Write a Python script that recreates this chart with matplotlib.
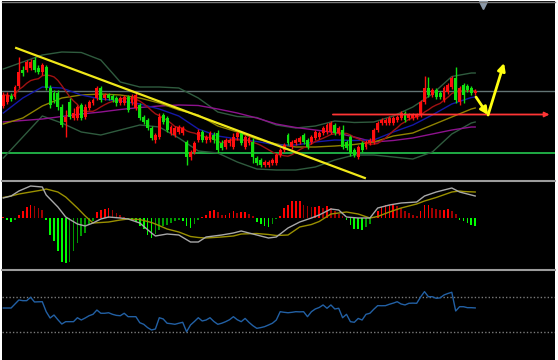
"""
Trading chart: candles + MAs/Bollinger, MACD-style histogram, RSI
Output: out.png (558x360)
"""

import numpy as np
import pandas as pd
import matplotlib
matplotlib.use('Agg')
import matplotlib.pyplot as plt
from matplotlib.lines import Line2D
from matplotlib.patches import Rectangle

W, H = 558, 360

# ── candles (price in chart units) ───────────────────────────────────────────
opens = [94, 98, 104, 103, 114, 130, 130, 132, 140, 132, 128, 133, 112, 107, 107, 93,
         78, 98, 82, 82, 95, 83, 92, 97, 102, 112, 102, 105, 104, 102, 97, 97,
         103, 97, 92, 95, 83, 80, 72, 60, 63, 85, 82, 67, 65, 68, 67, 58,
         43, 48, 60, 68, 60, 60, 65, 67, 57, 53, 57, 53, 63, 67, 53, 57,
         58, 42, 40, 35, 35, 37, 37, 45, 50, 65, 53, 57, 58, 65, 60, 58,
         62, 63, 67, 68, 68, 75, 67, 70, 58, 63, 50, 43, 57, 53, 57, 58,
         70, 77, 77, 77, 77, 80, 82, 87, 82, 82, 83, 85, 98, 112, 105, 110,
         107, 100, 108, 113, 122, 98, 115, 114, 112, 107]
closes = [105, 105, 101, 113, 128, 127, 138, 138, 130, 128, 135, 112, 95, 100, 93, 75,
          83, 83, 87, 93, 82, 93, 98, 100, 112, 100, 105, 102, 100, 97, 102, 103,
          90, 103, 105, 82, 78, 72, 62, 65, 83, 78, 70, 73, 72, 73, 72, 43,
          48, 57, 68, 60, 63, 67, 60, 50, 52, 60, 60, 63, 67, 57, 63, 62,
          43, 37, 35, 38, 38, 40, 45, 50, 55, 57, 58, 60, 62, 58, 53, 63,
          68, 67, 72, 75, 77, 67, 72, 53, 52, 47, 45, 53, 50, 58, 60, 70,
          77, 80, 80, 82, 82, 83, 87, 80, 85, 85, 85, 98, 112, 105, 110, 103,
          103, 112, 115, 122, 100, 112, 105, 110, 107, 109]
highs = [108, 108, 107, 115, 143, 134, 140, 141, 143, 135, 137, 135, 115, 110, 110, 96,
         90, 102, 92, 95, 97, 96, 100, 102, 114, 114, 107, 107, 106, 104, 104, 105,
         105, 106, 107, 97, 85, 82, 74, 67, 87, 87, 84, 75, 74, 75, 74, 60,
         50, 59, 71, 70, 65, 69, 68, 70, 60, 62, 62, 67, 69, 69, 65, 65,
         62, 44, 42, 40, 40, 42, 47, 52, 57, 67, 60, 62, 64, 67, 62, 65,
         70, 69, 74, 77, 79, 77, 74, 75, 60, 65, 52, 55, 59, 60, 62, 72,
         79, 82, 82, 84, 84, 85, 89, 89, 87, 87, 87, 100, 124, 123, 112, 112,
         109, 114, 117, 124, 133, 114, 117, 116, 114, 111]
lows = [92, 96, 99, 101, 112, 124, 128, 130, 128, 126, 125, 110, 92, 97, 90, 73,
        63, 81, 80, 80, 80, 81, 90, 95, 100, 98, 100, 100, 98, 94, 95, 95,
        88, 95, 90, 80, 76, 70, 60, 57, 61, 76, 68, 65, 63, 66, 65, 35,
        40, 46, 58, 58, 57, 58, 57, 47, 50, 51, 54, 51, 60, 55, 51, 55,
        37, 35, 33, 33, 33, 35, 35, 43, 48, 55, 51, 55, 56, 56, 51, 56,
        60, 61, 65, 66, 66, 65, 65, 51, 50, 44, 43, 41, 48, 51, 55, 56,
        68, 75, 75, 75, 75, 78, 80, 78, 80, 80, 81, 83, 96, 103, 103, 101,
        101, 98, 106, 111, 97, 95, 97, 108, 105, 105]

# ── overlay lines, read at every 5th bar ─────────────────────────────────────
ma_idx = [0, 5, 10, 15, 20, 25, 30, 35, 40, 45, 50, 55, 60, 65, 70, 75, 80, 85,
          90, 95, 100, 105, 110, 115, 120, 121]
ma_blue = [87, 102, 113, 112, 105, 101, 99, 96, 91, 84, 71, 64, 61, 58.5, 55, 55, 58, 60,
           59.5, 60, 68, 75, 85, 96, 102.5, 103]
ma_olive = [76, 82, 94, 102, 105, 106, 105, 102, 97, 90, 85, 74, 68, 61, 56, 53, 53, 54,
            55.5, 58, 64, 67, 75, 83, 91, 92]
ma_purple = [78, 79.5, 81, 83.5, 86, 88, 90.5, 92.5, 94, 95, 94.5, 91, 87, 82, 76, 72.5, 70, 67.5,
             63, 58, 59.5, 62, 66, 70, 73, 73]
bb_upper = [131, 138, 145, 148, 147.5, 140, 118, 113, 113, 112, 102, 88, 83.5, 82.5, 75, 72, 74, 79,
            77.5, 78, 84, 93, 106, 123.5, 127, 127]
bb_lower = [42, 63, 84, 77, 68, 65, 70, 75, 73, 62, 49, 47, 38, 31, 30, 30, 33, 40,
            45, 45, 43, 41, 48, 66, 77, 78]

# ── MACD panel ───────────────────────────────────────────────────────────────
macd_idx = [0, 2, 4, 7, 10, 11, 14, 16, 19, 21, 23, 25, 27, 30, 32, 35, 38, 39, 42, 45, 48, 50,
            52, 56, 59, 61, 65, 68, 70, 73, 76, 79, 81, 84, 86, 88, 91, 94, 96, 99, 102, 106,
            108, 111, 115, 117, 118, 121]
macd_main = [20, 22, 27, 32, 31, 23, 11, 1, -6, -8, -5, -1, 1, 0, -1, -5, -15, -18, -16, -17,
             -24, -24, -19, -17, -15, -13, -17, -20, -19, -10, -4, 0, 3, 9, 8, 1, 0, 0, 10, 13,
             15, 16, 22, 26, 30, 26, 25, 22]
macd_signal = [20.5, 22, 24, 26, 28, 29, 26, 21, 10, 2, -5, -4.5, -4, -2, -1, -1.5, -4.5, -6,
               -11, -14, -18.5, -19.5, -20, -19, -18, -16, -15.5, -16.5, -17.5, -17, -9, -6.5,
               -3.5, 4, 5, 6, 4, 0, 1.5, 6, 10, 14, 17, 20.5, 26, 27, 26.5, 26]
macd_hist = [1, -2, -4, -2, 3, 7, 11, 13, 12, 10, 8,
             -2, -17, -23, -33, -44, -45, -44, -33, -25, -18, -15, -7, -3,
             6, 8, 9, 10, 8, 5, 3, 1,
             -1, -2, -4, -8, -11, -17, -20, -16, -12, -8, -7, -5, -3, -2, -3, -8, -10, -6, -2,
             1, 3, 7, 8, 6, 3, 3, 5, 7, 5, 6, 6, 4, 2,
             -4, -6, -8, -9, -6, -1,
             2, 10, 13, 17, 17, 17, 13, 12, 11, 11, 12, 10, 12, 10, 7, 4, 2,
             -2, -7, -11, -11, -12, -9, -6,
             1, 7, 11, 13, 13, 14, 12, 10, 7, 5, 3, 2, 7, 13, 13, 10, 9, 8, 8, 9, 7, 4,
             -2, -3, -5, -7, -8]

# ── RSI panel ────────────────────────────────────────────────────────────────
rsi = [57.4, 57.4, 57.4, 62, 66.6, 65.8, 65.8, 69.7, 64.3, 64.5, 64.6, 53.2, 46, 49.4, 44, 39.1,
       41.8, 41.8, 41.8, 46.3, 43.7, 46, 48.6, 50.2, 55.1, 51.4, 51.4, 52, 50.2, 49, 48.6, 51.4,
       47.5, 47.5, 47.5, 40.6, 38.8, 35, 32.3, 33.4, 46.3, 44.9, 40, 39.5, 38.8, 40, 41.1, 30.3,
       38, 42, 46.3, 42.6, 43.7, 46.3, 42, 38.8, 40, 41.8, 44, 47.5, 44, 41.8, 45.5, 41,
       37.2, 34.2, 35, 36.1, 38, 40, 43.7, 53.2, 52.5, 52, 52.5, 53.2, 53, 53.2, 47.5, 53.2,
       56.3, 58, 60.9, 57.1, 60.9, 56.3, 57.1, 46.3, 50.2, 41.8, 41.1, 45.5, 43.7, 50.2, 51.4, 56,
       60.1, 60, 60.1, 61.7, 63, 64.6, 62, 60.9, 62.8, 63, 62.8, 70, 76.1, 70.3, 70.3, 68.5,
       69, 72.3, 74, 75.4, 54, 58.9, 58.9, 57.8, 57.8, 57.5]
rsi_levels = [70, 30]

# ── hand-drawn analysis on the price panel ───────────────────────────────────
level_gray = 109
level_green = 47
level_red = 85.5
level_red_start = 83.8
trend_start, trend_end = (3.3, 152), (92.7, 22)
arrow_down = ((121.2, 103), (124.3, 85))
arrow_up = ((124.3, 85), (128.4, 137))

o = np.array(opens, float)
c = np.array(closes, float)
n = len(c)
x = np.arange(n)
X0 = -1.3 / 3.9
X1 = X0 + 553 / 3.9


def box(x0, y0, x1, y1):
    return [x0 / W, 1 - y1 / H, (x1 - x0) / W, (y1 - y0) / H]


def panel(y0, y1):
    ax = fig.add_axes(box(2, y0, 555, y1), facecolor='black')
    ax.set_xticks([])
    ax.set_yticks([])
    for s in ax.spines.values():
        s.set_visible(False)
    ax.set_xlim(X0, X1)
    return ax


fig = plt.figure(figsize=(W / 100, H / 100), dpi=100, facecolor='white')
fig.add_artist(Rectangle((2 / W, 0), 553 / W, 359 / H, transform=fig.transFigure,
                         facecolor='black', edgecolor='none', zorder=0))
for yy, lw, col in [(2, 1.0, '#7a7a7a'), (180.5, 1.5, '#9c9c9c'), (269.5, 1.5, '#9c9c9c')]:
    fig.add_artist(Line2D([2 / W, 555 / W], [1 - yy / H] * 2, color=col, lw=lw,
                          transform=fig.transFigure, zorder=5))

# ── price panel ──────────────────────────────────────────────────────────────
ax = panel(3, 180)
ax.set_ylim(20, 197)
ax.axhline(level_gray, color='#627474', lw=1)
ax.axhline(level_green, color='#22b84a', lw=1.3)

ax.plot(ma_idx, bb_upper, color='#2f5b3e', lw=1)
ax.plot(ma_idx, bb_lower, color='#2f5b3e', lw=1)
ax.plot(ma_idx, ma_purple, color='#8e128e', lw=1)
ax.plot(ma_idx, ma_olive, color='#8f8300', lw=1)
ax.plot(ma_idx, ma_blue, color='#1418a8', lw=1)
ax.plot(x, pd.Series(c).rolling(10, min_periods=1).mean(), color='#a01212', lw=1)

up = c >= o
cols = np.where(up, '#ff0f0f', '#10e010')
ax.vlines(x, lows, highs, colors=cols, lw=1, zorder=3)
ax.bar(x, np.maximum(np.abs(c - o), 0.9), bottom=np.minimum(o, c), width=0.72,
       color=cols, linewidth=0, zorder=3)

ax.plot([trend_start[0], trend_end[0]], [trend_start[1], trend_end[1]],
        color='#f0e81a', lw=1.6, zorder=4)
ax.annotate('', xy=(X1 - 0.7, level_red), xytext=(level_red_start, level_red),
            arrowprops=dict(arrowstyle='-|>', color='#ff3535', lw=1.3, mutation_scale=7),
            zorder=4)
for start, end in (arrow_down, arrow_up):
    ax.annotate('', xy=end, xytext=start,
                arrowprops=dict(arrowstyle='-|>', color='#ffff10', lw=2,
                                mutation_scale=11, shrinkA=0, shrinkB=0), zorder=5)
ax.plot([123], [195.2], marker='v', color='#8a98a8', ms=6, clip_on=False, zorder=6)

# ── MACD panel ───────────────────────────────────────────────────────────────
ax2 = panel(182, 269)
ax2.set_ylim(-51, 36)
hist = np.array(macd_hist, float)
prev = np.r_[0, hist[:-1]]
growing = (np.abs(hist) >= np.abs(prev)) | (np.sign(hist) != np.sign(prev))
hcols = np.where(hist > 0, np.where(growing, '#ff0000', '#a00000'),
                 np.where(growing, '#00ff00', '#009a00'))
ax2.bar(x, hist, width=0.42, color=hcols, linewidth=0)
ax2.plot(macd_idx, macd_signal, color='#9a9000', lw=1)
ax2.plot(macd_idx, macd_main, color='#a8a8a8', lw=1)

# ── RSI panel ────────────────────────────────────────────────────────────────
ax3 = panel(271, 360)
ax3.set_ylim(-2, 99.7)
for lv in rsi_levels:
    ax3.axhline(lv, color='#7a7a7a', lw=1, ls=(0, (1, 1.5)))
ax3.plot(x, rsi, color='#2260a4', lw=1)

plt.savefig('out.png', dpi=100, facecolor='white')
plt.close()
